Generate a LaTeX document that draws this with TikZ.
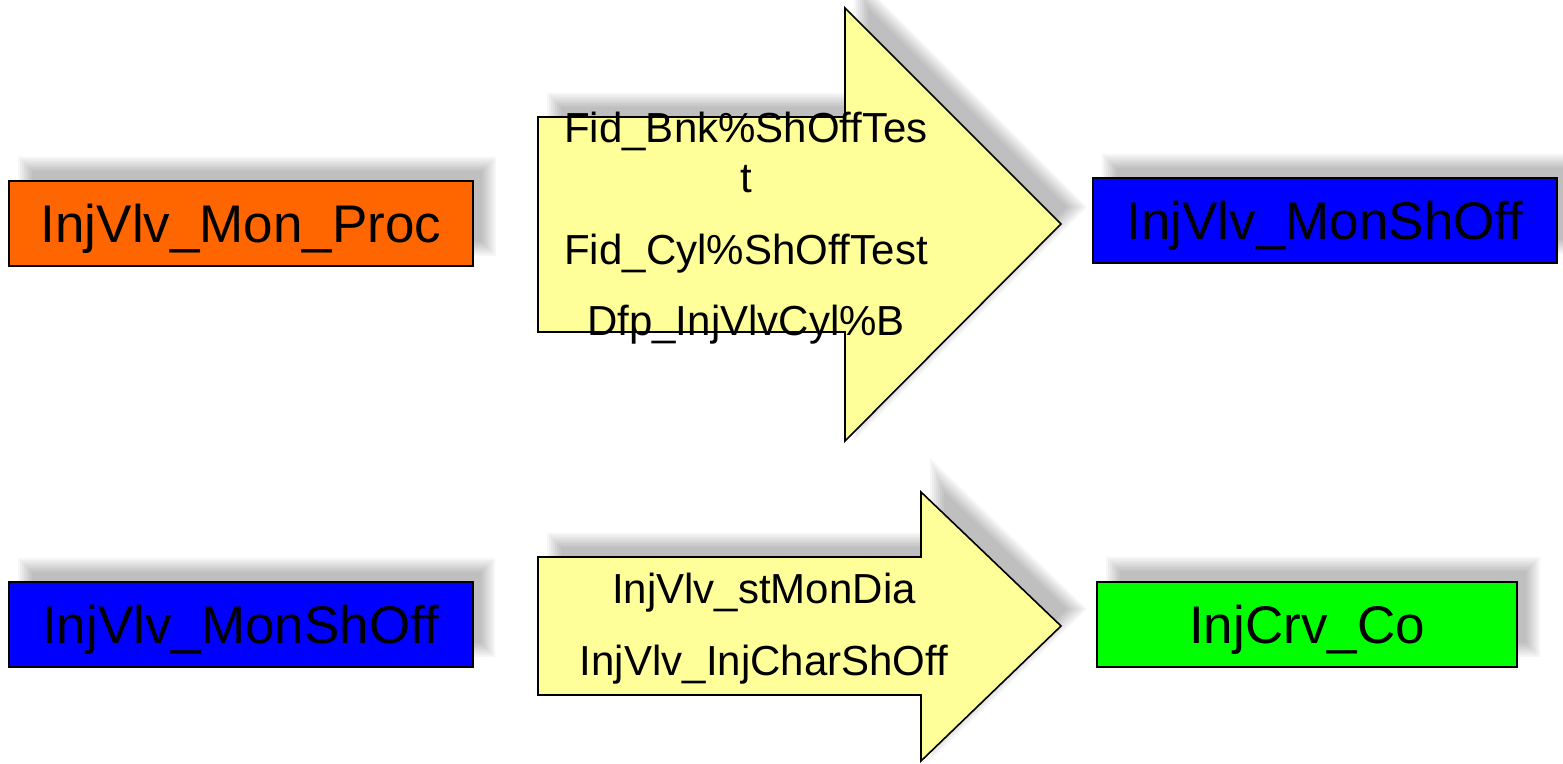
\documentclass[tikz,border=0pt]{standalone}
\usepackage{fontspec}
\setmainfont{Liberation Sans}
\definecolor{boxorange}{HTML}{FF6600}
\definecolor{boxblue}{HTML}{0000FF}
\definecolor{boxgreen}{HTML}{00FF00}
\definecolor{arrowyellow}{HTML}{FFFF99}
\tikzset{
  box/.style={draw=black, line width=1pt, inner sep=0pt, minimum width=232pt, minimum height=42.5pt,
    font=\fontsize{26.5}{30}\selectfont, text height=19pt, text depth=0pt},
  arrowshape/.style={draw=black, line width=0.8pt, fill=arrowyellow},
  arrowtext/.style={anchor=base, inner sep=0pt, font=\fontsize{21}{25}\selectfont},
  shadowlayer/.style={fill=black, opacity=0.034, shift={(16,-17)}},
}
\begin{document}
\begin{tikzpicture}[x=0.5pt, y=-0.5pt]
\useasboundingbox (0,0) rectangle (1563,764);
\clip (0,0) rectangle (1563,764);

% ---------- shadows (blurred by layered insets) ----------
\foreach \k in {0,...,7}{
  \pgfmathsetmacro{\d}{(\k-3.5)*2}
  \fill[shadowlayer]
    (9+\d,181+\d) rectangle (473-\d,266-\d)
    (1093+\d,178+\d) rectangle (1557-\d,264-\d)
    (9+\d,582+\d) rectangle (472-\d,667-\d)
    (1097+\d,581+\d) rectangle (1517-\d,667-\d);
  \fill[shadowlayer]
    (538+\d,117+\d) -- (845+\d,117+\d) -- (845+\d,8+2.4*\d) -- (1061-1.4*\d,224)
    -- (845+\d,441-2.4*\d) -- (845+\d,332-\d) -- (538+\d,332-\d) -- cycle;
  \fill[shadowlayer]
    (538+\d,557+\d) -- (921+\d,557+\d) -- (921+\d,492+2.4*\d) -- (1061-1.4*\d,626)
    -- (921+\d,761-2.4*\d) -- (921+\d,695-\d) -- (538+\d,695-\d) -- cycle;
}

% ---------- boxes ----------
\node[box, fill=boxorange] (proc) at (241,223.5) {InjVlv\_Mon\_Proc};
\node[box, fill=boxblue] (shoff1) at (1325,221) {InjVlv\_MonShOff};
\node[box, fill=boxblue] (shoff2) at (240.5,624.5) {InjVlv\_MonShOff};
\node[box, fill=boxgreen, minimum width=210pt] (co) at (1307,624) {InjCrv\_Co};

% ---------- arrows ----------
\draw[arrowshape] (538,117) -- (845,117) -- (845,8) -- (1061,224)
  -- (845,441) -- (845,332) -- (538,332) -- cycle;
\draw[arrowshape] (538,557) -- (921,557) -- (921,492) -- (1061,626)
  -- (921,761) -- (921,695) -- (538,695) -- cycle;

% ---------- arrow labels ----------
\node[arrowtext] (a1l1) at (746,143) {Fid\_Bnk\%ShOffTes};
\node[arrowtext] (a1l2) at (746,193) {t};
\node[arrowtext] (a1l3) at (746,265) {Fid\_Cyl\%ShOffTest};
\node[arrowtext] (a1l4) at (746,336) {Dfp\_InjVlvCyl\%B};

\node[arrowtext] (a2l1) at (764,603) {InjVlv\_stMonDia};
\node[arrowtext] (a2l2) at (764,675) {InjVlv\_InjCharShOff};
\end{tikzpicture}
\end{document}
